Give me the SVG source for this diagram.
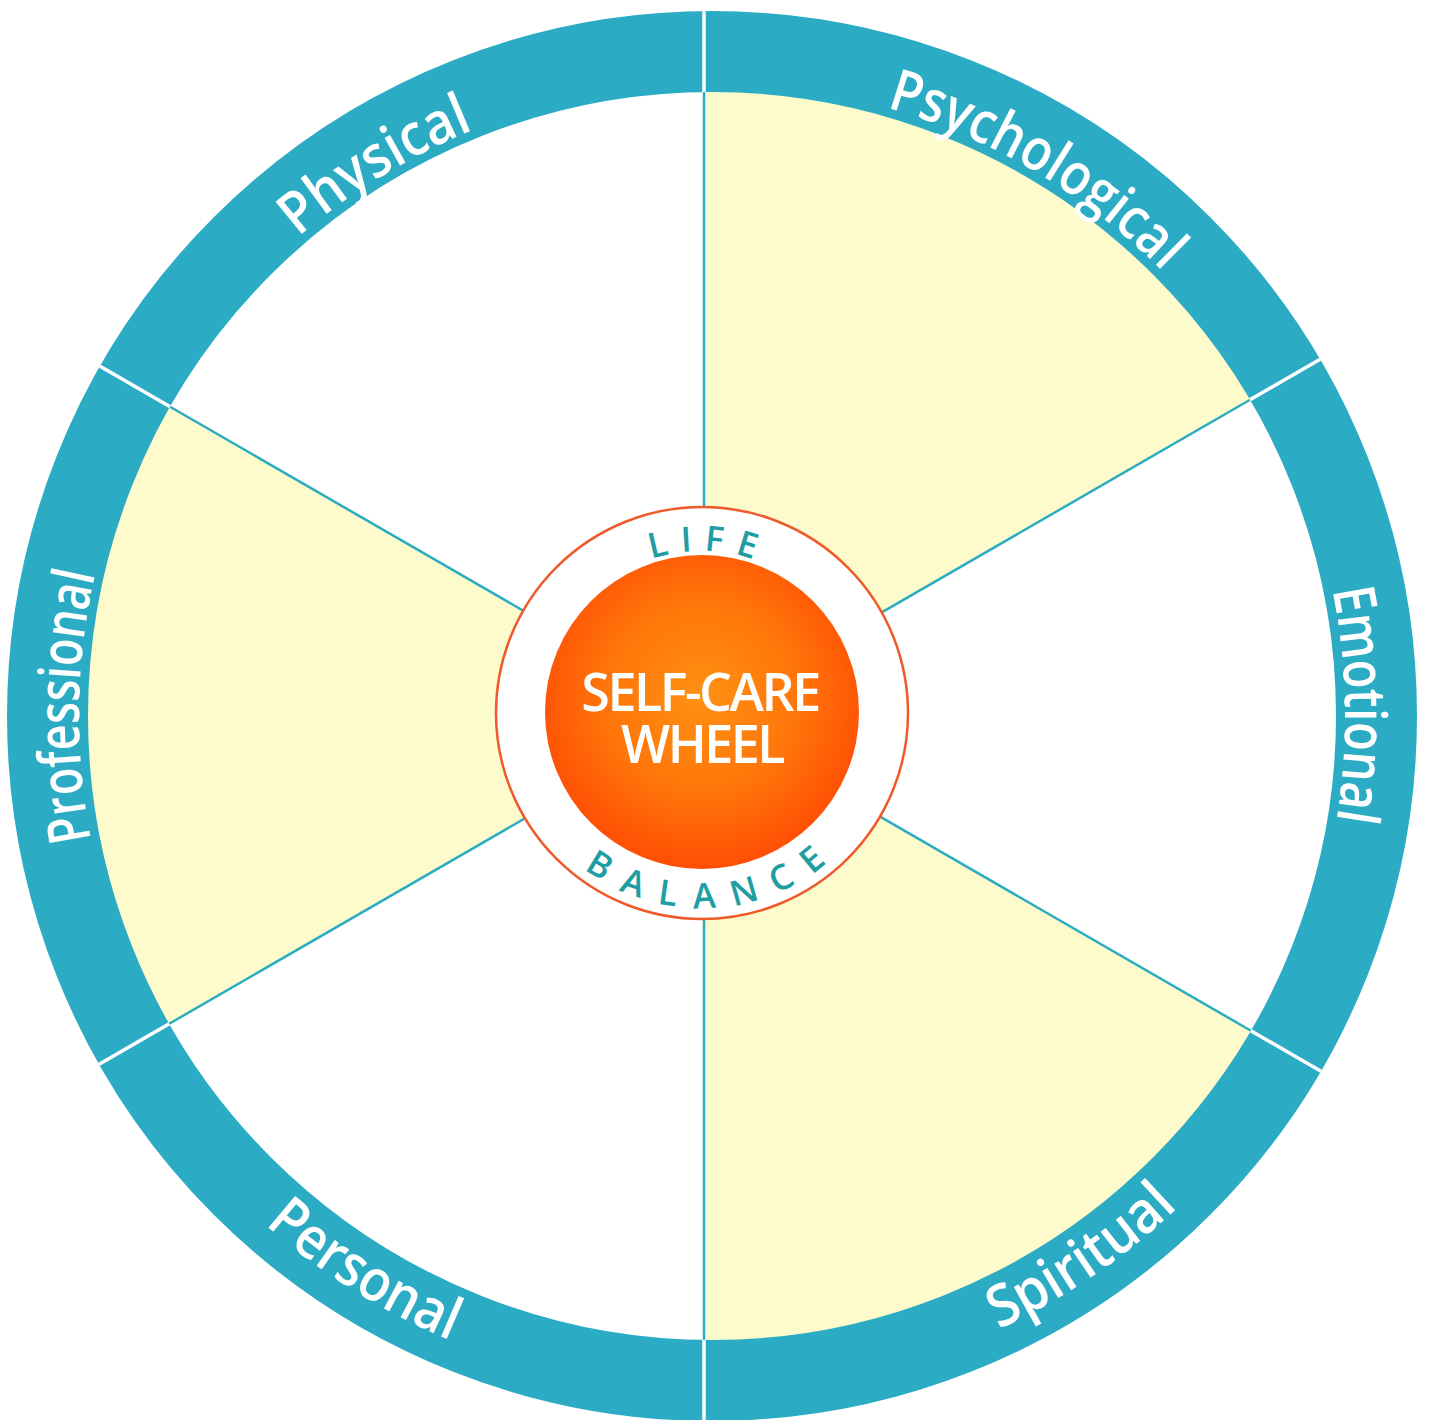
<svg xmlns="http://www.w3.org/2000/svg" width="1431" height="1420" viewBox="0 0 1431 1420">
  <defs>
    <style>
      .yellow { fill: #FDFBCC; }
      .spoke { stroke: #2AACC3; stroke-width: 2.5; fill: none; }
      .divider { stroke: #FFFFFF; stroke-width: 3.5; fill: none; }
      .label { font-family: "Open Sans", "Noto Sans", "Liberation Sans", sans-serif; font-size: 58px; font-weight: 600; fill: #FFFFFF; }
      .arc { font-family: "Open Sans", "Noto Sans", "Liberation Sans", sans-serif; font-size: 35px; font-weight: 600; fill: #1E9EA3; }
      .title { font-family: "Open Sans", "Noto Sans", "Liberation Sans", sans-serif; font-size: 52px; font-weight: 600; fill: #FFFFFF; letter-spacing: -2.5px; text-anchor: middle; }
    </style>
    <radialGradient id="orangeGrad" cx="50%" cy="45%" r="55%">
      <stop offset="0%" stop-color="#FF9012"/>
      <stop offset="55%" stop-color="#FF760A"/>
      <stop offset="100%" stop-color="#FF4E04"/>
    </radialGradient>
    <clipPath id="ringClip">
      <path clip-rule="evenodd" d="M712,11 A705,705 0 1 1 712,1421 A705,705 0 1 1 712,11 Z M712,92 A624,624 0 1 0 712,1340 A624,624 0 1 0 712,92 Z"/>
    </clipPath>
    <path id="cwPath" d="M712,83 A633,633 0 1 1 712,1349 A633,633 0 1 1 712,83"/>
    <path id="ccwPath" d="M712,39 A677,677 0 1 0 712,1393 A677,677 0 1 0 712,39"/>
    <path id="lifePath" d="M702,875 A162,162 0 1 1 702,551 A162,162 0 1 1 702,875"/>
    <path id="balancePath" d="M702,518 A195,195 0 1 0 702,908 A195,195 0 1 0 702,518"/>
  </defs>

  <rect x="0" y="0" width="1431" height="1420" fill="#FFFFFF"/>

  <g id="sectors">
    <path id="sector-psychological" class="yellow" d="M704,715 L704,50 A665,665 0 0 1 1279.9,382.5 Z"/>
    <path id="sector-spiritual" class="yellow" d="M704,715 L1279.9,1047.5 A665,665 0 0 1 704,1380 Z"/>
    <path id="sector-professional" class="yellow" d="M704,715 L128.1,1047.5 A665,665 0 0 1 128.1,382.5 Z"/>
  </g>

  <g id="connectors">
    <line class="spoke" x1="704" y1="715" x2="704" y2="75"/>
    <line class="spoke" x1="704" y1="715" x2="1258.3" y2="395"/>
    <line class="spoke" x1="704" y1="715" x2="1258.3" y2="1035"/>
    <line class="spoke" x1="704" y1="715" x2="704" y2="1355"/>
    <line class="spoke" x1="704" y1="715" x2="149.7" y2="1035"/>
    <line class="spoke" x1="704" y1="715" x2="149.7" y2="395"/>
  </g>

  <g id="ring">
    <circle cx="712" cy="716" r="664.5" fill="none" stroke="#2BACC4" stroke-width="81"/>
    <g clip-path="url(#ringClip)">
      <line class="divider" x1="704" y1="155" x2="704" y2="-5"/>
      <line class="divider" x1="1188.9" y1="435" x2="1327.5" y2="355"/>
      <line class="divider" x1="1188.9" y1="995" x2="1327.5" y2="1075"/>
      <line class="divider" x1="704" y1="1275" x2="704" y2="1435"/>
      <line class="divider" x1="219.1" y1="995" x2="80.5" y2="1075"/>
      <line class="divider" x1="219.1" y1="435" x2="80.5" y2="355"/>
    </g>
  </g>

  <g id="label-psychological">
    <text class="label"><textPath href="#cwPath" startOffset="339.2" text-anchor="middle" textLength="325" lengthAdjust="spacingAndGlyphs">Psychological</textPath></text>
  </g>
  <g id="label-emotional">
    <text class="label"><textPath href="#cwPath" startOffset="983.3" text-anchor="middle" textLength="232" lengthAdjust="spacingAndGlyphs">Emotional</textPath></text>
  </g>
  <g id="label-spiritual">
    <text class="label"><textPath href="#ccwPath" startOffset="2532.1" text-anchor="middle" textLength="218" lengthAdjust="spacingAndGlyphs">Spiritual</textPath></text>
  </g>
  <g id="label-personal">
    <text class="label"><textPath href="#ccwPath" startOffset="1748.7" text-anchor="middle" textLength="220" lengthAdjust="spacingAndGlyphs">Personal</textPath></text>
  </g>
  <g id="label-professional">
    <text class="label"><textPath href="#cwPath" startOffset="2991.9" text-anchor="middle" textLength="268" lengthAdjust="spacingAndGlyphs">Professional</textPath></text>
  </g>
  <g id="label-physical">
    <text class="label"><textPath href="#cwPath" startOffset="3629.3" text-anchor="middle" textLength="207" lengthAdjust="spacingAndGlyphs">Physical</textPath></text>
  </g>

  <g id="center">
    <circle cx="702" cy="713" r="206" fill="#FFFFFF" stroke="#EE5A2A" stroke-width="2.5"/>
    <circle cx="702" cy="712" r="157" fill="url(#orangeGrad)"/>
    <text class="arc" letter-spacing="12"><textPath href="#lifePath" startOffset="515" text-anchor="middle">LIFE</textPath></text>
    <text class="arc" letter-spacing="17.4"><textPath href="#balancePath" startOffset="626" text-anchor="middle">BALANCE</textPath></text>
    <text class="title"><tspan x="700" y="711">SELF-CARE</tspan><tspan x="702" y="763">WHEEL</tspan></text>
  </g>
</svg>
